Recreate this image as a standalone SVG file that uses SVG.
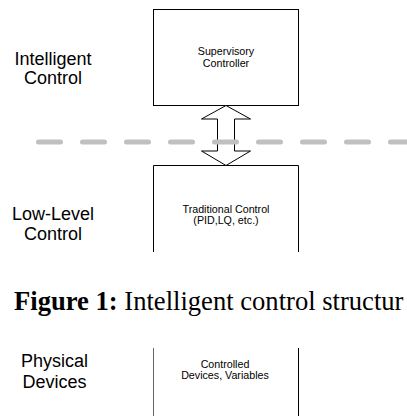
<svg xmlns="http://www.w3.org/2000/svg" width="407" height="416" viewBox="0 0 407 416">
<style>
.lbl{font-family:"Liberation Sans",Arial,sans-serif;font-size:18px;fill:#000;text-anchor:middle}
.small{font-family:"Liberation Sans",Arial,sans-serif;font-size:10.7px;fill:#000;text-anchor:middle}
.box{fill:#fff;stroke:#000;stroke-width:1}
.cap{font-family:"Liberation Serif","Times New Roman",serif;font-size:26.6px;fill:#000}
</style>
<rect width="407" height="416" fill="#fff"/>
<g id="label-intelligent">
<text class="lbl" x="53" y="65">Intelligent</text>
<text class="lbl" x="53" y="84">Control</text>
</g>
<g id="node-supervisory">
<rect class="box" x="153.5" y="9.5" width="145" height="96"/>
<text class="small" x="226" y="55">Supervisory</text>
<text class="small" x="226" y="66.5">Controller</text>
</g>
<g id="label-lowlevel">
<text class="lbl" x="53" y="220">Low-Level</text>
<text class="lbl" x="53" y="240">Control</text>
</g>
<g id="node-traditional">
<path class="box" d="M153.5,252 V165.5 H298.5 V252" fill="none"/>
<text class="small" x="226" y="212.5">Traditional Control</text>
<text class="small" x="226" y="224">(PID,LQ, etc.)</text>
</g>
<g id="connectors">
<polygon class="box" points="226,105.5 201.5,119 217.5,119 217.5,151 201.5,151 226,165.5 250.5,151 234.5,151 234.5,119 250.5,119"/>
<line x1="38.5" y1="142" x2="420" y2="142" stroke="#c0c0c0" stroke-width="5" stroke-linecap="round" stroke-dasharray="22 22"/>
</g>
<g id="caption">
<text class="cap" x="14" y="310"><tspan font-weight="bold">Figure 1:</tspan> Intelligent control structur</text>
</g>
<g id="label-physical">
<text class="lbl" x="54.5" y="367">Physical</text>
<text class="lbl" x="54.5" y="388">Devices</text>
</g>
<g id="node-devices">
<line x1="153.5" y1="348" x2="153.5" y2="416" stroke="#666" stroke-width="1"/>
<line x1="298.5" y1="348" x2="298.5" y2="416" stroke="#000" stroke-width="1"/>
<text class="small" x="225" y="367.5">Controlled</text>
<text class="small" x="225" y="378.5">Devices, Variables</text>
</g>
</svg>
